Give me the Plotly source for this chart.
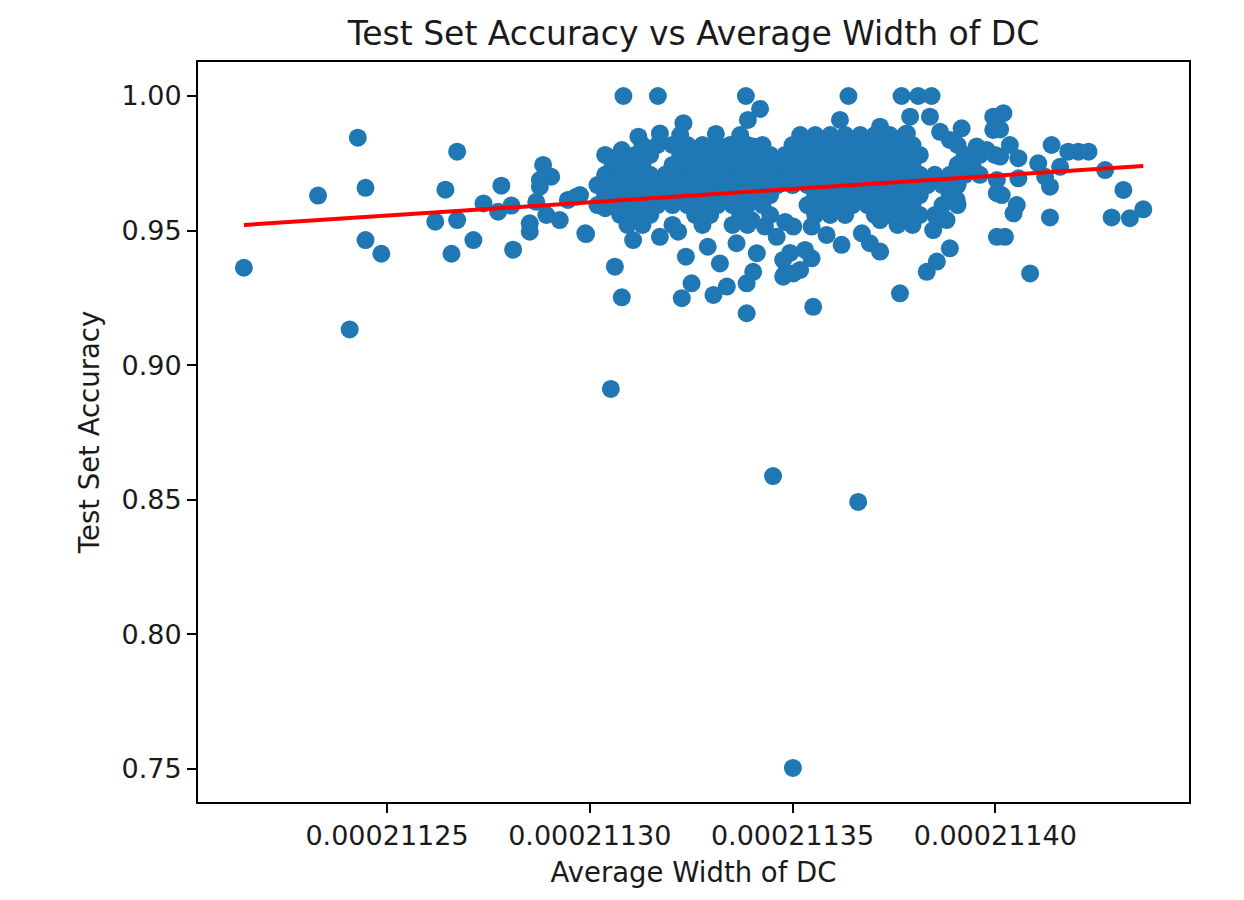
import plotly.graph_objects as go

# Scattered points outside the dense cluster (width, accuracy)
edge_width = [
    2.112147e-4, 2.112330e-4, 2.112428e-4, 2.112447e-4, 2.112408e-4, 2.112447e-4, 2.112486e-4,
    2.112673e-4, 2.112644e-4, 2.112619e-4, 2.112673e-4, 2.112659e-4, 2.112713e-4, 2.112738e-4,
    2.112774e-4, 2.112782e-4, 2.112807e-4, 2.112811e-4, 2.112852e-4, 2.112852e-4, 2.112885e-4,
    2.112905e-4, 2.112877e-4, 2.112877e-4, 2.112868e-4, 2.112893e-4, 2.112926e-4, 2.112946e-4,
    2.112967e-4, 2.112989e-4,
    2.113052e-4, 2.113452e-4, 2.113662e-4, 2.113501e-4,
    2.113083e-4, 2.113168e-4, 2.113385e-4, 2.113420e-4, 2.113390e-4, 2.113231e-4, 2.113120e-4,
    2.113173e-4, 2.113311e-4, 2.113054e-4, 2.113079e-4, 2.113346e-4, 2.113403e-4, 2.113034e-4,
    2.112976e-4, 2.113038e-4, 2.112991e-4, 2.113062e-4, 2.113079e-4, 2.113107e-4, 2.113173e-4,
    2.113218e-4, 2.113237e-4, 2.113291e-4, 2.113321e-4, 2.113251e-4, 2.113227e-4, 2.113305e-4,
    2.113338e-4, 2.113387e-4, 2.113387e-4, 2.113403e-4, 2.113477e-4, 2.113477e-4, 2.113502e-4,
    2.113362e-4, 2.113412e-4, 2.113461e-4, 2.113502e-4, 2.113432e-4, 2.113399e-4,
    2.113638e-4, 2.113769e-4, 2.113810e-4, 2.113843e-4, 2.113617e-4, 2.113790e-4, 2.113839e-4,
    2.113782e-4, 2.113864e-4, 2.113917e-4, 2.113716e-4, 2.113995e-4, 2.113995e-4, 2.113551e-4,
    2.113765e-4, 2.113831e-4, 2.113856e-4, 2.113888e-4, 2.113621e-4, 2.113671e-4, 2.113691e-4,
    2.113716e-4, 2.113531e-4, 2.113547e-4, 2.113482e-4, 2.113519e-4, 2.113547e-4, 2.113584e-4,
    2.113716e-4, 2.113798e-4, 2.113847e-4, 2.113880e-4, 2.113905e-4, 2.114004e-4, 2.114004e-4,
    2.113954e-4, 2.113913e-4, 2.113494e-4, 2.113482e-4, 2.113888e-4,
    2.114020e-4, 2.114012e-4, 2.114036e-4, 2.113979e-4, 2.114012e-4, 2.114057e-4, 2.114139e-4,
    2.114180e-4, 2.114205e-4, 2.114230e-4, 2.114106e-4, 2.114160e-4, 2.114057e-4, 2.114123e-4,
    2.114135e-4, 2.114271e-4, 2.114316e-4, 2.114365e-4, 2.114332e-4, 2.114287e-4, 2.114135e-4,
    2.114016e-4, 2.114053e-4, 2.114045e-4, 2.114024e-4, 2.114086e-4, 2.114004e-4,
]
edge_acc = [
    0.9362, 0.9630, 0.9845, 0.9659, 0.9133, 0.9465, 0.9414,
    0.9793, 0.9652, 0.9533, 0.9539, 0.9414, 0.9465, 0.9601,
    0.9570, 0.9667, 0.9593, 0.9429, 0.9527, 0.9496, 0.9744,
    0.9700, 0.9688, 0.9663, 0.9607, 0.9558, 0.9539, 0.9614,
    0.9626, 0.9490,
    0.8912, 0.8588, 0.8492, 0.7504,
    1.0000, 1.0000, 1.0000, 0.9952, 0.9911, 0.9899, 0.9849,
    0.9861, 0.9859, 0.9769, 0.9799, 0.9818, 0.9812, 0.9657,
    0.9632, 0.9583, 0.9487, 0.9366, 0.9252, 0.9465, 0.9477,
    0.9496, 0.9403, 0.9440, 0.9378, 0.9304, 0.9249, 0.9261,
    0.9292, 0.9193, 0.9304, 0.9347, 0.9329, 0.9391, 0.9341,
    0.9453, 0.9416, 0.9477, 0.9515, 0.9515, 0.9539,
    1.0000, 1.0000, 1.0000, 1.0000, 0.9911, 0.9923, 0.9923,
    0.9861, 0.9867, 0.9880, 0.9886, 0.9923, 0.9874, 0.9217,
    0.9267, 0.9347, 0.9385, 0.9434, 0.9447, 0.9490, 0.9453,
    0.9422, 0.9428, 0.9397, 0.9341, 0.9354, 0.9515, 0.9484,
    0.9539, 0.9539, 0.9502, 0.9539, 0.9614, 0.9477, 0.9639,
    0.9812, 0.9750, 0.9417, 0.9532, 0.9837,
    0.9936, 0.9876, 0.9818, 0.9799, 0.9775, 0.9769, 0.9818,
    0.9793, 0.9793, 0.9793, 0.9750, 0.9737, 0.9694, 0.9700,
    0.9663, 0.9725, 0.9651, 0.9579, 0.9546, 0.9549, 0.9549,
    0.9632, 0.9595, 0.9564, 0.9477, 0.9341, 0.9688,
]

# Dense cluster, read row by row: accuracy level -> widths at that level
cluster_acc = [0.9855, 0.9818, 0.9781, 0.9744, 0.9707, 0.9669, 0.9632, 0.9595, 0.9558, 0.9521]
cluster_widths = [
    [2.113223e-4, 2.113371e-4, 2.113519e-4, 2.113556e-4, 2.113593e-4, 2.113630e-4, 2.113667e-4,
     2.113703e-4, 2.113740e-4, 2.113777e-4],
    [2.113130e-4, 2.113167e-4, 2.113204e-4, 2.113241e-4, 2.113278e-4, 2.113315e-4, 2.113352e-4,
     2.113389e-4, 2.113426e-4, 2.113500e-4, 2.113537e-4, 2.113574e-4, 2.113611e-4, 2.113648e-4,
     2.113685e-4, 2.113722e-4, 2.113759e-4, 2.113796e-4, 2.113907e-4],
    [2.113038e-4, 2.113075e-4, 2.113112e-4, 2.113149e-4, 2.113223e-4, 2.113260e-4, 2.113297e-4,
     2.113334e-4, 2.113371e-4, 2.113408e-4, 2.113445e-4, 2.113482e-4, 2.113519e-4, 2.113556e-4,
     2.113593e-4, 2.113630e-4, 2.113667e-4, 2.113703e-4, 2.113740e-4, 2.113777e-4, 2.113814e-4,
     2.113925e-4, 2.113962e-4, 2.113999e-4],
    [2.113056e-4, 2.113093e-4, 2.113130e-4, 2.113204e-4, 2.113241e-4, 2.113278e-4, 2.113315e-4,
     2.113352e-4, 2.113389e-4, 2.113426e-4, 2.113463e-4, 2.113500e-4, 2.113537e-4, 2.113574e-4,
     2.113611e-4, 2.113648e-4, 2.113685e-4, 2.113722e-4, 2.113759e-4, 2.113796e-4,
     2.113907e-4, 2.113944e-4],
    [2.113038e-4, 2.113075e-4, 2.113112e-4, 2.113149e-4, 2.113186e-4, 2.113223e-4, 2.113260e-4,
     2.113297e-4, 2.113334e-4, 2.113371e-4, 2.113408e-4, 2.113445e-4, 2.113482e-4, 2.113519e-4,
     2.113556e-4, 2.113593e-4, 2.113630e-4, 2.113667e-4, 2.113703e-4, 2.113740e-4, 2.113777e-4,
     2.113814e-4, 2.113851e-4, 2.113888e-4, 2.113925e-4, 2.113962e-4],
    [2.113019e-4, 2.113056e-4, 2.113093e-4, 2.113130e-4, 2.113167e-4, 2.113204e-4, 2.113241e-4,
     2.113278e-4, 2.113315e-4, 2.113352e-4, 2.113389e-4, 2.113426e-4, 2.113463e-4, 2.113500e-4,
     2.113537e-4, 2.113574e-4, 2.113611e-4, 2.113648e-4, 2.113685e-4, 2.113722e-4, 2.113759e-4,
     2.113796e-4, 2.113833e-4, 2.113870e-4, 2.113907e-4],
    [2.113038e-4, 2.113075e-4, 2.113112e-4, 2.113149e-4, 2.113186e-4, 2.113223e-4, 2.113260e-4,
     2.113297e-4, 2.113334e-4, 2.113371e-4, 2.113408e-4, 2.113445e-4, 2.113556e-4, 2.113593e-4,
     2.113630e-4, 2.113667e-4, 2.113703e-4, 2.113740e-4, 2.113777e-4, 2.113814e-4,
     2.113888e-4],
    [2.113019e-4, 2.113056e-4, 2.113093e-4, 2.113130e-4, 2.113167e-4, 2.113204e-4, 2.113241e-4,
     2.113278e-4, 2.113315e-4, 2.113352e-4, 2.113389e-4, 2.113426e-4, 2.113537e-4, 2.113574e-4,
     2.113611e-4, 2.113648e-4, 2.113685e-4, 2.113722e-4, 2.113759e-4, 2.113796e-4, 2.113870e-4,
     2.113907e-4],
    [2.113075e-4, 2.113112e-4, 2.113149e-4, 2.113260e-4, 2.113297e-4, 2.113371e-4, 2.113445e-4,
     2.113556e-4, 2.113593e-4, 2.113630e-4, 2.113703e-4, 2.113740e-4, 2.113777e-4,
     2.113814e-4, 2.113851e-4],
    [2.113093e-4, 2.113130e-4, 2.113204e-4, 2.113278e-4, 2.113352e-4, 2.113389e-4,
     2.113759e-4, 2.113796e-4],
]

# fitted trend line end points
fit_width = [2.112147e-4, 2.114365e-4]
fit_acc = [0.9521, 0.9740]

x_ticks = [0.00021125, 0.00021130, 0.00021135, 0.00021140]
x_labels = ["0.00021125", "0.00021130", "0.00021135", "0.00021140"]
y_ticks = [0.75, 0.80, 0.85, 0.90, 0.95, 1.00]
y_labels = ["0.75", "0.80", "0.85", "0.90", "0.95", "1.00"]

xs = list(edge_width)
ys = list(edge_acc)
for acc, row in zip(cluster_acc, cluster_widths):
    xs += row
    ys += [acc] * len(row)

fig = go.Figure()
fig.add_trace(go.Scatter(
    x=xs, y=ys, mode="markers",
    marker=dict(color="#1f77b4", size=18, line=dict(width=0)),
))
fig.add_trace(go.Scatter(
    x=fit_width, y=fit_acc, mode="lines",
    line=dict(color="#ff0000", width=4),
))

axis_style = dict(
    showline=True, linecolor="black", linewidth=2, mirror=True,
    ticks="outside", ticklen=9, tickwidth=2, tickcolor="black",
    showgrid=False, zeroline=False,
    tickfont=dict(size=27, color="#1a1a1a"),
)

# page body has an 8px margin, so the figure is a bit smaller than the window
fig.update_layout(
    width=1236, height=892,
    margin=dict(l=190, r=55, t=54, b=98),
    plot_bgcolor="white", paper_bgcolor="white",
    font=dict(family="DejaVu Sans", size=27, color="#1a1a1a"),
    showlegend=False,
    title=dict(
        text="Test Set Accuracy vs Average Width of DC",
        x=685.5 / 1236, xanchor="center",
        yref="container", y=1 - 25 / 892, yanchor="middle",
        font=dict(size=33, color="#1a1a1a"),
    ),
)
fig.update_xaxes(
    range=[0.00021120339, 0.00021144778],
    tickvals=x_ticks, ticktext=x_labels,
    title=dict(text="Average Width of DC", standoff=12, font=dict(size=27.5)),
    **axis_style,
)
fig.update_yaxes(
    range=[0.73774, 1.01263],
    tickvals=y_ticks, ticktext=y_labels,
    title=dict(text="Test Set Accuracy", standoff=14, font=dict(size=27.5)),
    **axis_style,
)

fig.write_html("out.html")
